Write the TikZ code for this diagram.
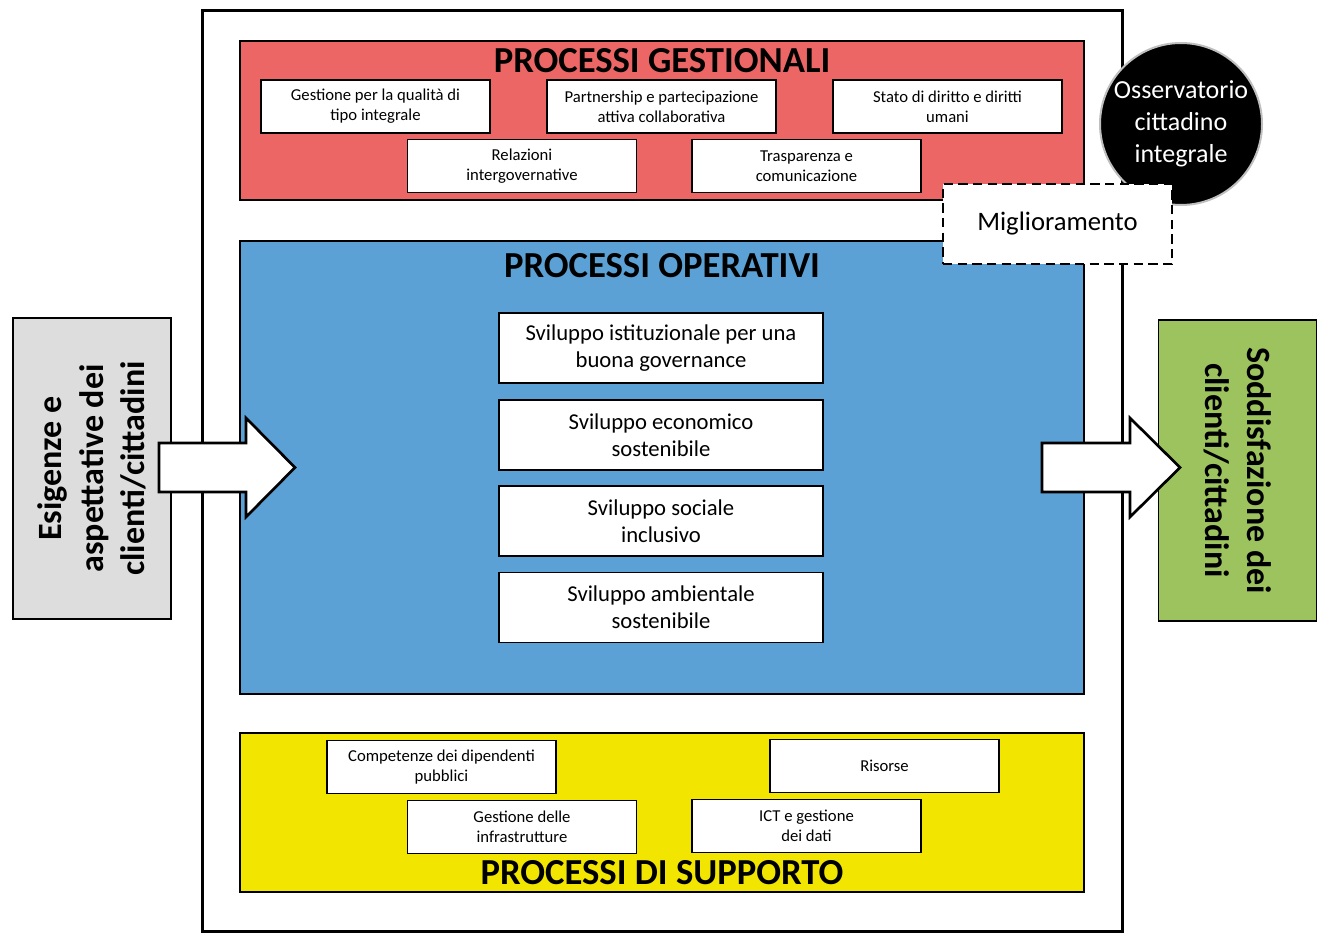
\documentclass[tikz,border=0pt]{standalone}
\usepackage{fontspec}
\setmainfont{Carlito}
\usetikzlibrary{positioning}
\definecolor{gestred}{RGB}{236,102,101}
\definecolor{operblue}{RGB}{91,161,213}
\definecolor{suppyellow}{RGB}{242,230,0}
\definecolor{soddgreen}{RGB}{157,195,95}
\definecolor{esiggray}{RGB}{221,221,221}
\definecolor{circgray}{RGB}{191,191,191}
\tikzset{
  voicebox/.style={draw, fill=white, line width=1.1pt, minimum width=171.75pt, minimum height=39.75pt, align=center, inner sep=1pt, font=\fontsize{12.5}{15}\selectfont},
  opbox/.style={draw, fill=white, line width=1.1pt, minimum width=243pt, minimum height=52.5pt, align=center, font=\fontsize{17}{20.5}\selectfont},
  proctitle/.style={inner sep=0pt, font=\fontsize{27.5}{30}\selectfont\bfseries},
  sidebox/.style={draw, line width=1.1pt, minimum width=225.75pt, minimum height=118.5pt, align=center, font=\fontsize{25.5}{31}\selectfont\bfseries},
  bigarrow/.style={draw, fill=white, line width=2pt, line join=miter}
}
\begin{document}
\begin{tikzpicture}[x=0.75pt,y=0.75pt,yscale=-1,xscale=1]
\useasboundingbox (0,0) rectangle (1320,937);

%Shape: Rectangle (frame)
\draw [line width=2.25pt]  (202,11) rectangle (1122,931) ;
%Shape: Rectangle (gestionali)
\draw [fill=gestred, line width=1.5pt]  (240,41) rectangle (1084,200) ;
%Shape: Rectangle (operativi)
\draw [fill=operblue, line width=1.5pt]  (240,241) rectangle (1084,694) ;
%Shape: Rectangle (supporto)
\draw [fill=suppyellow, line width=1.5pt]  (240,733) rectangle (1084,892) ;

% Titles
\node [proctitle] (tgest) at (662,61) {PROCESSI GESTIONALI};
\node [proctitle] (toper) at (662,266) {PROCESSI OPERATIVI};
\node [proctitle] (tsupp) at (662,873) {PROCESSI DI SUPPORTO};

% Processi gestionali
\node [voicebox] (gqual) at (375.5,106.5) {Gestione per la qualità di\\tipo integrale};
\node [voicebox] (partn) at (661.5,106.5) {Partnership e partecipazione\\attiva collaborativa};
\node [voicebox] (stato) at (947.5,106.5) {Stato di diritto e diritti\\umani};
\node [voicebox] (relaz) at (522,166) {Relazioni\\intergovernative};
\node [voicebox] (trasp) at (806.5,166) {Trasparenza e\\comunicazione};

% Processi operativi
\node [opbox] (svist) at (661,348) {Sviluppo istituzionale per una\\buona governance};
\node [opbox] (sveco) at (661,435) {Sviluppo economico\\sostenibile};
\node [opbox] (svsoc) at (661,521) {Sviluppo sociale\\inclusivo};
\node [opbox] (svamb) at (661,607.5) {Sviluppo ambientale\\sostenibile};

% Processi di supporto
\node [voicebox] (compd) at (441.5,767) {Competenze dei dipendenti\\pubblici};
\node [voicebox] (risor) at (884.5,766) {Risorse};
\node [voicebox] (ginfr) at (522,827) {Gestione delle\\infrastrutture};
\node [voicebox] (ictda) at (806.5,826) {ICT e gestione\\dei dati};

% Side boxes
\node [sidebox, fill=esiggray, rotate=90] (esig) at (92,468.5) {Esigenze e\\aspettative dei\\clienti/cittadini};
\node [sidebox, fill=soddgreen, rotate=-90] (sodd) at (1237.5,470.5) {Soddisfazione dei\\clienti/cittadini};

%Shape: Right Arrow (in)
\draw [bigarrow]  (159,443) -- (246,443) -- (246,418) -- (295,467.5) -- (246,517) -- (246,492) -- (159,492) -- cycle ;
%Shape: Right Arrow (out)
\draw [bigarrow]  (1042,443) -- (1130,443) -- (1130,418) -- (1180,467.5) -- (1130,517) -- (1130,492) -- (1042,492) -- cycle ;

% Osservatorio
\node [circle, fill=black, draw=circgray, line width=1.5pt, minimum size=121.5pt, inner sep=0pt, text=white, align=center, font=\fontsize{19.5}{24}\selectfont] (osserv) at (1181,124) {Osservatorio\\cittadino\\integrale};
% Miglioramento
\node [draw, fill=white, line width=1.1pt, dash pattern=on 7pt off 4pt, minimum width=171.75pt, minimum height=60pt, font=\fontsize{20}{24}\selectfont] (miglio) at (1057.5,224) {Miglioramento};
\end{tikzpicture}
\end{document}
